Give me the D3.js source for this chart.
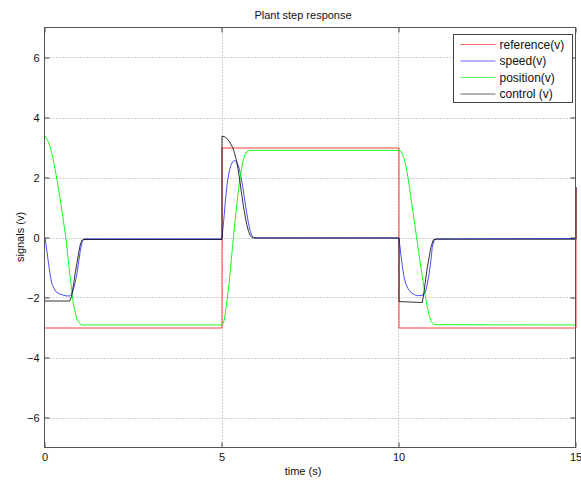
<!DOCTYPE html>
<html>
<head>
<meta charset="utf-8">
<script src="https://cdn.jsdelivr.net/npm/d3@7.9.0/dist/d3.min.js"></script>
<style>
  body { margin: 0; background: #fff; }
  svg { display: block; font-family: "Liberation Sans", Arial, sans-serif; }
</style>
</head>
<body>
<svg id="chart" width="581" height="482"></svg>
<script>
// Data: [time (s), value (v)]
const reference = [[0, -3], [5, -3], [5, 1.7], [5, 3], [10, 3], [10, -3], [15, -3], [15, 1.7]];

const speed = [
  [0, 0], [0.05, -0.4], [0.1, -0.85], [0.15, -1.25], [0.2, -1.55], [0.3, -1.78], [0.4, -1.86],
  [0.5, -1.9], [0.6, -1.93], [0.7, -1.93], [0.75, -1.88], [0.8, -1.72], [0.85, -1.5], [0.9, -1.2],
  [0.95, -0.8], [1.0, -0.4], [1.05, -0.12], [1.1, -0.03], [4.99, -0.03],
  [5.0, 0], [5.05, 0.6], [5.1, 1.3], [5.15, 1.85], [5.2, 2.2], [5.25, 2.42], [5.3, 2.54], [5.35, 2.58],
  [5.4, 2.56], [5.45, 2.45], [5.5, 2.25], [5.55, 1.95], [5.6, 1.6], [5.65, 1.2], [5.7, 0.82],
  [5.75, 0.48], [5.8, 0.22], [5.85, 0.07], [5.9, 0.01], [6.0, 0], [10.0, 0],
  [10.05, -0.53], [10.1, -0.98], [10.15, -1.35], [10.2, -1.55], [10.25, -1.68], [10.33, -1.81],
  [10.43, -1.89], [10.52, -1.92], [10.62, -1.92], [10.71, -1.88], [10.76, -1.75], [10.8, -1.53],
  [10.85, -1.2], [10.9, -0.76], [10.94, -0.31], [10.99, -0.09], [11.04, -0.03], [15, -0.02]
];

const position = [
  [0, 3.4], [0.1, 3.2], [0.2, 2.8], [0.3, 2.2], [0.4, 1.5], [0.5, 0.75], [0.6, -0.1], [0.7, -1.2],
  [0.8, -2.2], [0.9, -2.7], [1.0, -2.88], [1.05, -2.9], [5.0, -2.9],
  [5.05, -2.8], [5.1, -2.45], [5.15, -2.0], [5.2, -1.5], [5.25, -0.9], [5.3, -0.25], [5.35, 0.35],
  [5.4, 0.9], [5.45, 1.45], [5.5, 1.9], [5.55, 2.3], [5.6, 2.6], [5.65, 2.78], [5.7, 2.87],
  [5.75, 2.91], [5.8, 2.92], [10.0, 2.92],
  [10.05, 2.9], [10.1, 2.8], [10.15, 2.62], [10.2, 2.37], [10.25, 2.05], [10.3, 1.65], [10.35, 1.22],
  [10.4, 0.82], [10.45, 0.42], [10.5, 0.0], [10.55, -0.42], [10.6, -0.83], [10.65, -1.22],
  [10.7, -1.6], [10.75, -1.97], [10.8, -2.3], [10.85, -2.58], [10.9, -2.76], [10.95, -2.85],
  [11.0, -2.89], [15, -2.9]
];

const control = [
  [0, -2.1], [0.7, -2.1], [0.75, -1.95], [0.8, -1.6], [0.85, -1.2], [0.9, -0.85], [0.95, -0.5],
  [1.0, -0.2], [1.05, -0.07], [1.1, -0.05], [5.0, -0.05],
  [5.0, 3.4], [5.1, 3.36], [5.2, 3.23], [5.3, 3.02], [5.35, 2.85], [5.4, 2.62], [5.45, 2.32],
  [5.5, 1.95], [5.55, 1.5], [5.6, 1.1], [5.65, 0.75], [5.7, 0.45], [5.75, 0.22], [5.8, 0.08],
  [5.85, 0.02], [5.9, 0], [10.0, 0],
  [10.0, -2.12], [10.66, -2.15], [10.71, -1.76], [10.8, -0.98], [10.9, -0.31], [10.97, -0.06],
  [11.05, -0.04], [15, -0.04], [15, 1.7]
];

const seriesNames = ['reference(v)', 'speed(v)', 'position(v)', 'control (v)'];
const seriesColors = ['#ff0000', '#0000ff', '#00ff00', '#000000'];
const xTicks = [0, 5, 10, 15];
const yTicks = [-6, -4, -2, 0, 2, 4, 6];

// Layout
const plotLeft = 44.5, plotRight = 575.5, plotTop = 27.5, plotBottom = 447.5;
const svg = d3.select('#chart');

const x = d3.scaleLinear().domain([0, 15]).range([plotLeft, plotRight]);
const y = d3.scaleLinear().domain([-7, 7]).range([plotBottom, plotTop]);

// Grid lines (dotted)
const grid = svg.append('g').attr('stroke', '#a0a0a0').attr('stroke-dasharray', '1,2');
xTicks.filter(t => t > 0 && t < 15).forEach(t => {
  grid.append('line')
    .attr('x1', Math.round(x(t)) + 0.5).attr('x2', Math.round(x(t)) + 0.5)
    .attr('y1', plotTop).attr('y2', plotBottom);
});
yTicks.forEach(t => {
  grid.append('line')
    .attr('y1', Math.round(y(t)) + 0.5).attr('y2', Math.round(y(t)) + 0.5)
    .attr('x1', plotLeft).attr('x2', plotRight);
});

// Axes with inward ticks on all sides
const axisStyle = g => {
  g.select('.domain').remove();
  g.selectAll('.tick line').attr('stroke', '#444');
  g.selectAll('.tick text').attr('fill', '#111').attr('font-size', 11);
};

svg.append('g')
  .attr('transform', `translate(0,${plotBottom})`)
  .call(d3.axisBottom(x).tickValues(xTicks).tickSizeInner(-5).tickSizeOuter(0).tickPadding(6))
  .call(axisStyle);

svg.append('g')
  .attr('transform', `translate(0,${plotTop})`)
  .call(d3.axisTop(x).tickValues(xTicks).tickSizeInner(-5).tickSizeOuter(0).tickFormat(''))
  .call(axisStyle);

svg.append('g')
  .attr('transform', `translate(${plotLeft},0)`)
  .call(d3.axisLeft(y).tickValues(yTicks).tickSizeInner(-5).tickSizeOuter(0).tickPadding(5))
  .call(axisStyle);

svg.append('g')
  .attr('transform', `translate(${plotRight},0)`)
  .call(d3.axisRight(y).tickValues(yTicks).tickSizeInner(-5).tickSizeOuter(0).tickFormat(''))
  .call(axisStyle);

// Series lines (half-pixel shift gives the soft, anti-aliased look of the original)
const seriesOpacity = [0.75, 0.7, 0.9, 0.8];
const line = d3.line().x(d => x(d[0])).y(d => y(d[1]));
const seriesData = [reference, speed, position, control];
const plot = svg.append('g').attr('transform', 'translate(0.5,0.5)');
seriesData.forEach((data, i) => {
  plot.append('path')
    .datum(data)
    .attr('d', line)
    .attr('fill', 'none')
    .attr('stroke', seriesColors[i])
    .attr('stroke-width', 1)
    .attr('stroke-opacity', seriesOpacity[i]);
});

// Frame
svg.append('rect')
  .attr('x', plotLeft).attr('y', plotTop)
  .attr('width', plotRight - plotLeft).attr('height', plotBottom - plotTop)
  .attr('fill', 'none').attr('stroke', '#555');

// Legend
const legend = svg.append('g').attr('transform', 'translate(453.5,34.5)');
legend.append('rect')
  .attr('width', 119).attr('height', 68)
  .attr('fill', '#fff').attr('stroke', '#444');
seriesNames.forEach((name, i) => {
  const ly = 10 + i * 16.5;
  legend.append('line')
    .attr('x1', 7).attr('x2', 42).attr('y1', ly).attr('y2', ly)
    .attr('stroke', seriesColors[i]).attr('stroke-opacity', 0.6);
  legend.append('text')
    .attr('x', 46).attr('y', ly + 4)
    .attr('font-size', 12).attr('fill', '#111')
    .text(name);
});

// Title and axis labels
svg.append('text')
  .attr('x', 303).attr('y', 19)
  .attr('text-anchor', 'middle').attr('font-size', 11).attr('fill', '#111')
  .text('Plant step response');

svg.append('text')
  .attr('x', 303).attr('y', 475)
  .attr('text-anchor', 'middle').attr('font-size', 11).attr('fill', '#111')
  .text('time (s)');

svg.append('text')
  .attr('transform', 'translate(24,237) rotate(-90)')
  .attr('text-anchor', 'middle').attr('font-size', 11).attr('fill', '#111')
  .text('signals (v)');
</script>
</body>
</html>
